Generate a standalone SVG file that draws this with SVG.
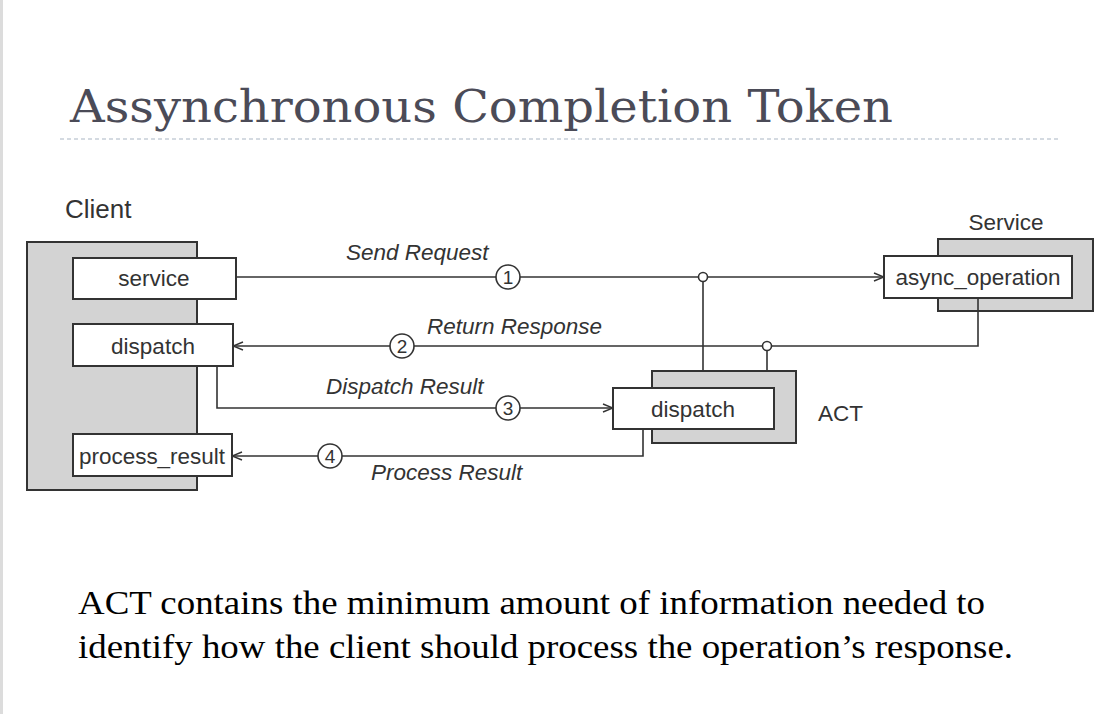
<svg xmlns="http://www.w3.org/2000/svg" width="1110" height="714" viewBox="0 0 1110 714">
<defs>
<marker id="arr" markerWidth="12" markerHeight="10" refX="11" refY="5" orient="auto" markerUnits="userSpaceOnUse">
<path d="M1,1 L11,5 L1,9" fill="none" stroke="#333" stroke-width="1.4"/>
</marker>
<style>
.outer{fill:#d3d3d3;stroke:#333;stroke-width:2}
.box{fill:#fff;stroke:#333;stroke-width:2}
.lbl{font-family:"Liberation Sans",Arial,sans-serif;font-size:22.5px;fill:#333}
.it{font-family:"Liberation Sans",Arial,sans-serif;font-size:22.5px;font-style:italic;fill:#333}
.ln{fill:none;stroke:#333;stroke-width:1.6}
.num{fill:#fff;stroke:#333;stroke-width:1.6}
.jn{fill:#fff;stroke:#333;stroke-width:1.6}
.numt{font-family:"Liberation Sans",Arial,sans-serif;font-size:19px;fill:#333;text-anchor:middle}
</style>
</defs>
<rect x="0" y="0" width="1110" height="714" fill="#fff"/>
<rect x="0" y="0" width="3" height="714" fill="#dcdcdc"/>
<g id="title">
<text x="70" y="122" font-family="DejaVu Serif,'Liberation Serif',serif" font-size="45" fill="#4b4b57" textLength="823" lengthAdjust="spacingAndGlyphs">Assynchronous Completion Token</text>
<line x1="60" y1="139" x2="1058" y2="139" stroke="#a9b6c4" stroke-width="1.2" stroke-dasharray="4,3"/>
</g>
<g id="client">
<rect class="outer" x="27" y="242" width="170" height="248"/>
<text class="lbl" x="65" y="218" style="font-size:26px">Client</text>
</g>
<g id="client-service">
<rect class="box" x="73" y="258" width="163" height="41"/>
<text class="lbl" x="154" y="286" text-anchor="middle">service</text>
</g>
<g id="client-dispatch">
<rect class="box" x="73" y="324" width="160" height="42"/>
<text class="lbl" x="153" y="354" text-anchor="middle">dispatch</text>
</g>
<g id="client-process_result">
<rect class="box" x="73" y="434" width="159" height="42"/>
<text class="lbl" x="152" y="464" text-anchor="middle" textLength="146" lengthAdjust="spacingAndGlyphs">process_result</text>
</g>
<g id="service">
<rect class="outer" x="938" y="239" width="155" height="72"/>
<text class="lbl" x="1006" y="230" text-anchor="middle">Service</text>
</g>
<g id="async_operation">
<rect class="box" x="884" y="256" width="188" height="42"/>
<text class="lbl" x="978" y="285" text-anchor="middle" textLength="165" lengthAdjust="spacingAndGlyphs">async_operation</text>
</g>
<g id="act">
<rect class="outer" x="652" y="371" width="144" height="72"/>
<text class="lbl" x="818" y="421">ACT</text>
</g>
<g id="act-dispatch">
<rect class="box" x="613" y="388" width="161" height="41"/>
<text class="lbl" x="693" y="417" text-anchor="middle">dispatch</text>
</g>
<g id="connectors">
<line class="ln" x1="236" y1="277" x2="884" y2="277" marker-end="url(#arr)"/>
<line class="ln" x1="703" y1="277" x2="703" y2="371"/>
<circle class="jn" cx="703" cy="277" r="4.5"/>
<circle class="num" cx="508" cy="277" r="12"/>
<text class="numt" x="508" y="284">1</text>
<text class="it" x="346" y="260">Send Request</text>

<polyline class="ln" points="978,298 978,346 233,346" marker-end="url(#arr)"/>
<line class="ln" x1="767" y1="346" x2="767" y2="371"/>
<circle class="jn" cx="767" cy="346" r="4.5"/>
<circle class="num" cx="402" cy="346" r="12"/>
<text class="numt" x="402" y="353">2</text>
<text class="it" x="427" y="334">Return Response</text>

<polyline class="ln" points="217,366 217,408 613,408" marker-end="url(#arr)"/>
<circle class="num" cx="508" cy="408" r="12"/>
<text class="numt" x="508" y="415">3</text>
<text class="it" x="326" y="394">Dispatch Result</text>

<polyline class="ln" points="643,429 643,456 232,456" marker-end="url(#arr)"/>
<circle class="num" cx="330" cy="456" r="12"/>
<text class="numt" x="330" y="463">4</text>
<text class="it" x="371" y="480">Process Result</text>
</g>
<g id="caption" font-family="'Liberation Serif','Times New Roman',serif" font-size="33" fill="#000">
<text x="78" y="614" textLength="907" lengthAdjust="spacingAndGlyphs">ACT contains the minimum amount of information needed to</text>
<text x="78" y="658" textLength="935" lengthAdjust="spacingAndGlyphs">identify how the client should process the operation’s response.</text>
</g>
</svg>
